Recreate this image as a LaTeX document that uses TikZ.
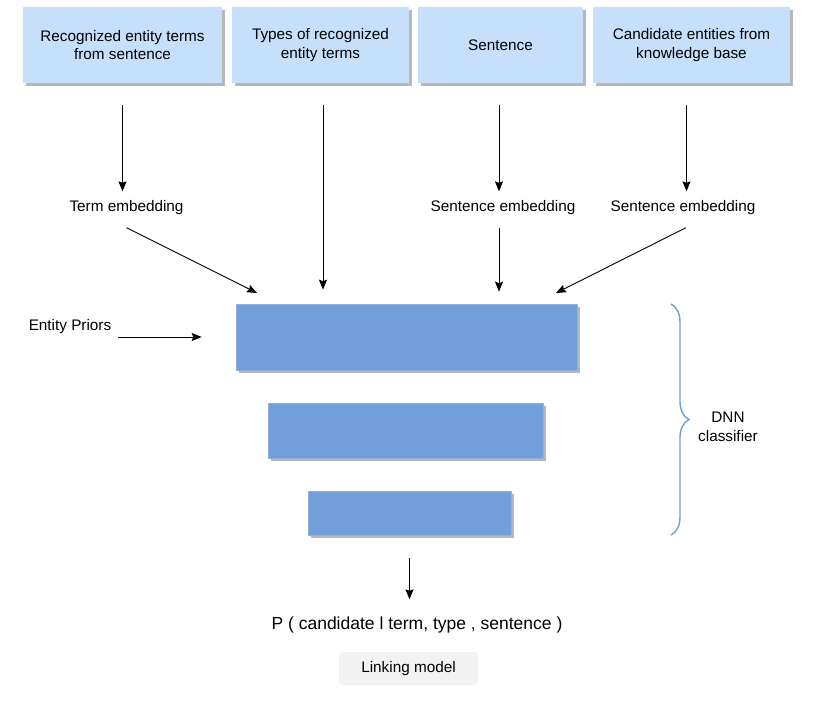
\documentclass[tikz,border=0pt]{standalone}
\usepackage{fontspec}
\setmainfont{Liberation Sans}
\usetikzlibrary{arrows.meta,shadows,decorations.pathreplacing}
\definecolor{inblue}{RGB}{198,224,252}
\definecolor{layerblue}{RGB}{114,158,218}
\definecolor{chipgray}{RGB}{242,242,242}

\begin{document}
\begin{tikzpicture}[x=1pt, y=-1pt, font=\fontsize{15.3}{18.8}\selectfont,
        inputbox/.style={fill=inblue, minimum height=76pt, align=center,
            drop shadow={shadow xshift=2.5pt, shadow yshift=-2.5pt, fill=black!28, opacity=1}},
        layerbox/.style={fill=layerblue, draw=layerblue!80!white, line width=0.6pt,
            drop shadow={shadow xshift=2.5pt, shadow yshift=-2.5pt, fill=black!28, opacity=1}},
        arr/.style={-{Stealth[length=10pt, width=8pt, inset=1.5pt]}, line width=0.9pt}]
    \useasboundingbox (0,0) rectangle (815,705);
    % inputs
    \node[inputbox, minimum width=199pt] (b1) at (122.5,45) {Recognized entity terms\\from sentence};
    \node[inputbox, minimum width=177pt] (b2) at (320.5,45) {Types of recognized\\entity terms};
    \node[inputbox, minimum width=165pt] (b3) at (500.5,45) {Sentence};
    \node[inputbox, minimum width=197pt] (b4) at (691.5,45) {Candidate entities from\\knowledge base};
    % embeddings
    \node (t1) at (126.5,208) {Term embedding};
    \node (t3) at (503,208) {Sentence embedding};
    \node (t4) at (683,208) {Sentence embedding};
    \node (ep) at (70,327) {Entity Priors};
    % DNN layers
    \node[layerbox, minimum width=341pt, minimum height=66pt] (bar1) at (406.5,337) {};
    \node[layerbox, minimum width=275pt, minimum height=55pt] (bar2) at (405.5,430.5) {};
    \node[layerbox, minimum width=203pt, minimum height=44pt] (bar3) at (409.5,513) {};
    \draw[layerblue, line width=1.4pt, decorate, decoration={brace, amplitude=18pt}]
        (671,304) -- (671,535);
    \node[align=center] (dnn) at (728,427) {DNN\\classifier};
    % output
    \node[font=\fontsize{17.5}{20}\selectfont] (prob) at (417,625) {P ( candidate l term, type , sentence )};
    \node[fill=chipgray, rounded corners=4pt, minimum width=139pt, minimum height=33pt] (lm) at (408.5,668.5) {Linking model};
    \coordinate (in1) at (257,293);
    \coordinate (in4) at (556,293);
    % arrows
    \draw[arr, shorten <=22pt, shorten >=6pt] (b1.south) -- (b1.south |- t1.north);
    \draw[arr, shorten <=22pt, shorten >=14pt] ([xshift=2.5pt]b2.south) -- ([xshift=2.5pt]b2.south |- bar1.north);
    \draw[arr, shorten <=22pt, shorten >=6pt] ([xshift=-1.5pt]b3.south) -- ([xshift=-1.5pt]b3.south |- t3.north);
    \draw[arr, shorten <=22pt, shorten >=6pt] ([xshift=-5pt]b4.south) -- ([xshift=-5pt]b4.south |- t4.north);
    \draw[arr] ([yshift=-9pt]t1.south) -- (in1);
    \draw[arr, shorten >=12pt] ([xshift=-4pt, yshift=-9pt]t3.south) -- ([xshift=-4pt]t3.south |- bar1.north);
    \draw[arr] ([xshift=3pt, yshift=-9pt]t4.south) -- (in4);
    \draw[arr, shorten <=3pt, shorten >=34pt] (ep.east |- bar1.west) -- (bar1.west);
    \draw[arr, shorten <=23pt, shorten >=14pt] (bar3.south) -- (bar3.south |- prob.north);
\end{tikzpicture}
\end{document}
